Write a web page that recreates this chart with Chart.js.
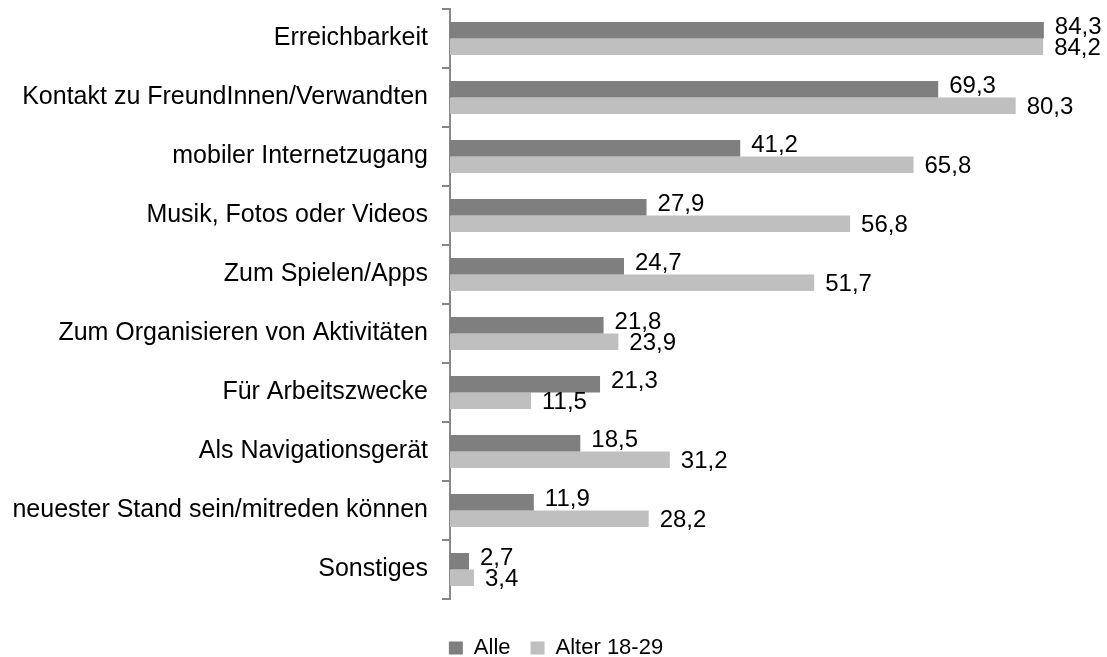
<!DOCTYPE html>
<html>
<head>
<meta charset="utf-8">
<script src="https://cdn.jsdelivr.net/npm/chart.js@4"></script>
<style>
  body { margin: 0; background: #fff; }
  #wrap { width: 1107px; height: 657px; }
</style>
</head>
<body>
<div id="wrap"><canvas id="myChart" width="1107" height="657"></canvas></div>
<script>
const categories = [
  "Erreichbarkeit",
  "Kontakt zu FreundInnen/Verwandten",
  "mobiler Internetzugang",
  "Musik, Fotos oder Videos",
  "Zum Spielen/Apps",
  "Zum Organisieren von Aktivitäten",
  "Für Arbeitszwecke",
  "Als Navigationsgerät",
  "neuester Stand sein/mitreden können",
  "Sonstiges"
];
const alle = [84.3, 69.3, 41.2, 27.9, 24.7, 21.8, 21.3, 18.5, 11.9, 2.7];
const alter1829 = [84.2, 80.3, 65.8, 56.8, 51.7, 23.9, 11.5, 31.2, 28.2, 3.4];

const FONT = "'Liberation Sans', Arial, sans-serif";

//* value labels right of the bars, the two labels pushed a bit apart
const valueLabels = {
  id: "valueLabels",
  afterDatasetsDraw(chart) {
    const ctx = chart.ctx;
    ctx.save();
    ctx.font = "24px " + FONT;
    ctx.fillStyle = "#000";
    ctx.textAlign = "left";
    ctx.textBaseline = "middle";
    chart.data.datasets.forEach((ds, di) => {
      const meta = chart.getDatasetMeta(di);
      meta.data.forEach((bar, i) => {
        const txt = ds.data[i].toFixed(1).replace(".", ",");
        const dy = di === 0 ? -3 : 2;
        ctx.fillText(txt, bar.x + 11, bar.y + dy);
      });
    });
    ctx.restore();
  }
};

//? nudge the legend a bit to the right, like the original
const legendShift = {
  id: "legendShift",
  afterLayout(chart) {
    if (chart.legend) {
      chart.legend.left += 14;
      chart.legend.right += 14;
    }
  }
};

const ctx = document.querySelector("#myChart").getContext("2d");
const myChart = new Chart(ctx, {
  type: "bar",
  data: {
    labels: categories,
    datasets: [
      {
        label: "Alle",
        data: alle,
        backgroundColor: "#7f7f7f",
        categoryPercentage: 0.56,
        barPercentage: 1.0
      },
      {
        label: "Alter 18-29",
        data: alter1829,
        backgroundColor: "#bfbfbf",
        categoryPercentage: 0.56,
        barPercentage: 1.0
      }
    ]
  },
  options: {
    indexAxis: "y",
    responsive: false,
    animation: false,
    layout: { padding: { top: 9, right: 23, bottom: -12, left: 0 } },
    scales: {
      x: {
        min: 0,
        max: 90,
        ticks: { display: false },
        grid: { display: false },
        border: { display: false },
        afterFit: (scale) => {
          scale.height = 18;
          scale.paddingLeft = 0;
          scale.paddingRight = 0;
        }
      },
      y: {
        afterFit: (scale) => {
          scale.width = 450;
          scale.paddingTop = 0;
          scale.paddingBottom = 0;
        },
        ticks: {
          color: "#000",
          padding: 14,
          font: { family: FONT, size: 25 }
        },
        grid: {
          offset: true,
          drawOnChartArea: false,
          drawTicks: true,
          tickLength: 8,
          color: "#868686",
          lineWidth: 2
        },
        border: { color: "#868686", width: 2 }
      }
    },
    plugins: {
      tooltip: { enabled: false },
      legend: {
        position: "bottom",
        labels: {
          color: "#000",
          boxWidth: 14,
          boxHeight: 13,
          padding: 20,
          font: { family: FONT, size: 22 }
        }
      }
    }
  },
  plugins: [valueLabels, legendShift]
});
</script>
</body>
</html>
